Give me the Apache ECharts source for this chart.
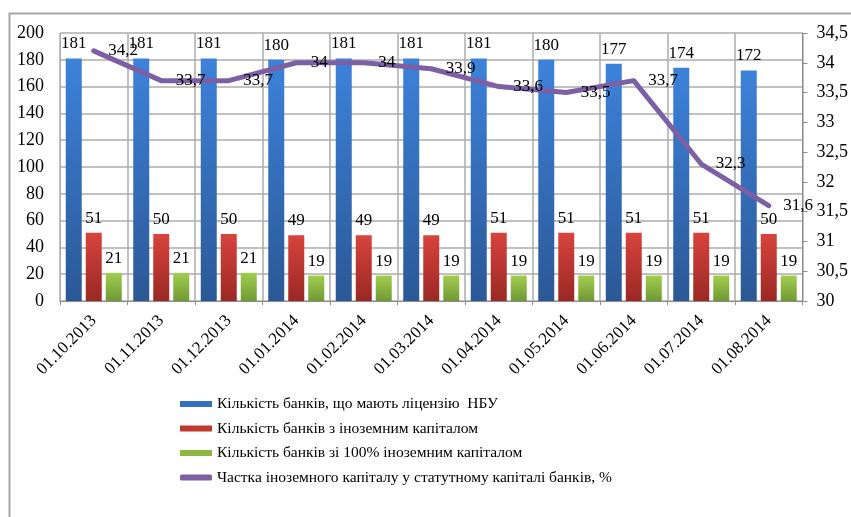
<!DOCTYPE html>
<html>
<head>
<meta charset="utf-8">
<script src="https://cdn.jsdelivr.net/npm/echarts@6/dist/echarts.min.js"></script>
<style>
  html, body { margin: 0; padding: 0; background: #fff; }
  #chart { width: 851px; height: 517px; }
</style>
</head>
<body>
<div id="chart"></div>
<script>
// дані діаграми
const dates = ['01.10.2013', '01.11.2013', '01.12.2013', '01.01.2014', '01.02.2014', '01.03.2014',
  '01.04.2014', '01.05.2014', '01.06.2014', '01.07.2014', '01.08.2014'];
const banksLicensed = [181, 181, 181, 180, 181, 181, 181, 180, 177, 174, 172];
const banksForeign = [51, 50, 50, 49, 49, 49, 51, 51, 51, 51, 50];
const banksForeign100 = [21, 21, 21, 19, 19, 19, 19, 19, 19, 19, 19];
const foreignShare = [34.2, 33.7, 33.7, 34, 34, 33.9, 33.6, 33.5, 33.7, 32.3, 31.6];

const NAME0 = 'Кількість банків, що мають ліцензію  НБУ';
const NAME1 = 'Кількість банків з іноземним капіталом';
const NAME2 = 'Кількість банків зі 100% іноземним капіталом';
const NAME3 = 'Частка іноземного капіталу у статутному капіталі банків, %';

const FONT = 'Liberation Serif';

function grad(top, bottom) { // вертикальний градієнт стовпчика
  return new echarts.graphic.LinearGradient(0, 0, 0, 1, [
    { offset: 0, color: top },
    { offset: 1, color: bottom }
  ]);
}

function comma(v) { // 34.5 -> "34,5"
  return String(v).replace('.', ',');
}

const barLabel = {
  show: true,
  position: 'top',
  distance: 6,
  color: '#000',
  fontFamily: FONT,
  fontSize: 17
};

const chart = echarts.init(document.getElementById('chart'), null, { renderer: 'canvas' });

const option = {
  animation: false,
  textStyle: { fontFamily: FONT },
  graphic: [{
    type: 'polyline',
    shape: { points: [[9.5, 517], [9.5, 13.5], [851, 13.5]] },
    style: { stroke: '#a6a6a6', lineWidth: 2, fill: null }
  }],
  grid: {
    left: 60,
    right: 48,
    top: 33,
    bottom: 216
  },
  legend: {
    orient: 'vertical',
    left: 175,
    top: 391,
    itemWidth: 32,
    itemHeight: 6,
    itemGap: 8.5,
    textStyle: { fontFamily: FONT, fontSize: 15.5, color: '#000' },
    data: [
      { name: NAME0, icon: 'rect', itemStyle: { color: '#3570c0' } },
      { name: NAME1, icon: 'rect', itemStyle: { color: '#c0392f' } },
      { name: NAME2, icon: 'rect', itemStyle: { color: '#8cb840' } },
      { name: NAME3, icon: 'roundRect', itemStyle: { color: '#7d5fa6' } }
    ]
  },
  xAxis: {
    type: 'category',
    data: dates,
    boundaryGap: true,
    axisLine: { lineStyle: { color: '#8c8c8c' } },
    axisTick: { show: true, length: 4, lineStyle: { color: '#8c8c8c' } },
    splitLine: { show: true, lineStyle: { color: '#adadad', width: 1.5 } },
    axisLabel: {
      rotate: 45,
      margin: 17,
      interval: 0,
      color: '#000',
      fontFamily: FONT,
      fontSize: 17
    }
  },
  yAxis: [{
    type: 'value',
    min: 0,
    max: 200,
    interval: 20,
    axisLine: { show: true, lineStyle: { color: '#adadad' } },
    axisTick: { show: false },
    splitLine: { show: true, lineStyle: { color: '#adadad', width: 1.5 } },
    axisLabel: { margin: 16, color: '#000', fontFamily: FONT, fontSize: 18 }
  }, {
    type: 'value',
    position: 'right',
    min: 30,
    max: 34.5,
    interval: 0.5,
    axisLine: { show: true, lineStyle: { color: '#8c8c8c' } },
    axisTick: { show: true, inside: false, length: 5, lineStyle: { color: '#8c8c8c' } },
    splitLine: { show: false },
    axisLabel: {
      margin: 14,
      color: '#000',
      fontFamily: FONT,
      fontSize: 18,
      formatter: comma
    }
  }],
  series: [{
    name: NAME0,
    type: 'bar',
    yAxisIndex: 0,
    barWidth: 16,
    barGap: '25%',
    data: banksLicensed,
    itemStyle: { color: grad('#3d82da', '#2b5896') },
    label: barLabel
  }, {
    name: NAME1,
    type: 'bar',
    yAxisIndex: 0,
    barWidth: 16,
    barGap: '25%',
    data: banksForeign,
    itemStyle: { color: grad('#d8433d', '#9a2824') },
    label: barLabel
  }, {
    name: NAME2,
    type: 'bar',
    yAxisIndex: 0,
    barWidth: 16,
    barGap: '25%',
    data: banksForeign100,
    itemStyle: { color: grad('#a2cd50', '#6f9a33') },
    label: barLabel
  }, {
    name: NAME3,
    type: 'line',
    yAxisIndex: 1,
    data: foreignShare,
    symbol: 'circle',
    symbolSize: 1, // майже невидимі точки, щоб показати підписи
    showSymbol: true,
    smooth: false,
    z: 5,
    lineStyle: { color: '#7d5fa6', width: 5, cap: 'round', join: 'round' },
    itemStyle: { color: '#7d5fa6' },
    label: {
      show: true,
      position: 'right',
      distance: 14,
      color: '#000',
      fontFamily: FONT,
      fontSize: 17,
      formatter: function (p) { return comma(p.value); }
    }
  }]
};

chart.setOption(option);
</script>
</body>
</html>
